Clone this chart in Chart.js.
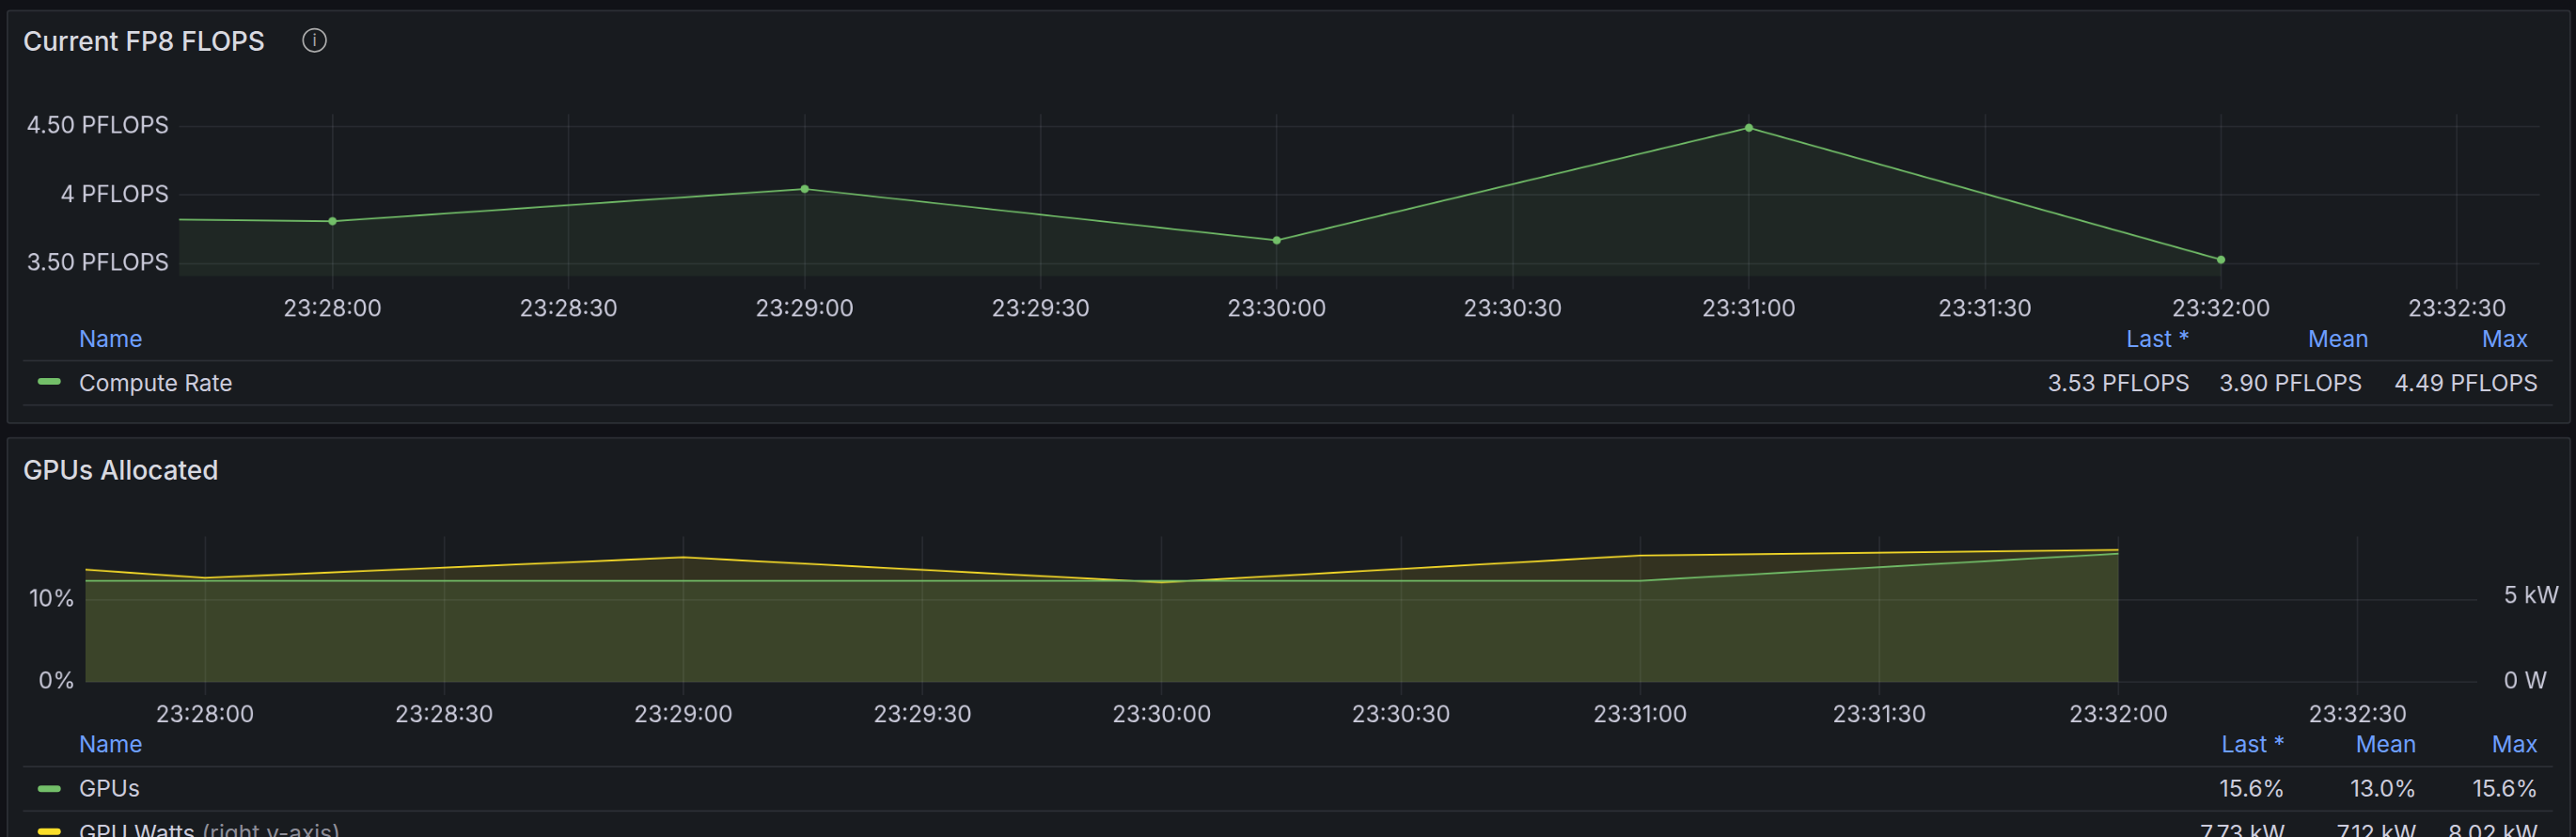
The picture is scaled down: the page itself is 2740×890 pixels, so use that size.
<!DOCTYPE html>
<html><head><meta charset="utf-8">
<script src="https://cdn.jsdelivr.net/npm/chart.js@4"></script>
<style>
html,body{margin:0;padding:0;background:#111217;width:2740px;height:890px;overflow:hidden;font-family:Inter,"Noto Sans",sans-serif;color:#ccccdc}
#root{position:absolute;left:0;top:0;width:1568px;height:509px;transform:scale(1.7474);transform-origin:0 0}
.panel{position:absolute;background:#181b1f;border:1px solid #2c2f35;border-radius:2px}
.title{position:absolute;font-size:16px;font-weight:500;color:#d8d9e0}
.abs{position:absolute}
.hdr{position:absolute;font-size:14px;color:#6e9fff}
.cell{position:absolute;font-size:14px;color:#ccccdc;text-align:right;white-space:nowrap}
.line{position:absolute;height:1px;background:#2c2f35}
.sw{position:absolute;width:14px;height:4px;border-radius:2px}
canvas{display:block}
</style></head><body>
<div id="root">
 <div class="panel" style="left:4px;top:6px;width:1559px;height:250px"></div>
 <div class="title" style="left:14px;top:15px">Current FP8 FLOPS</div>
 <div class="abs" style="left:184px;top:17px;width:15px;height:15px;border:1.3px solid #aaa;border-radius:50%;font-size:10px;line-height:13px;text-align:center;color:#aaa;box-sizing:border-box">i</div>
 <div class="abs" style="left:10px;top:55px;width:1548px;height:140px"><canvas id="c1"></canvas></div>
 <div class="hdr" style="left:48px;top:197px">Name</div>
 <div class="hdr" style="left:1240px;width:93px;text-align:right;top:197px">Last *</div>
 <div class="hdr" style="left:1340px;width:102px;text-align:right;top:197px">Mean</div>
 <div class="hdr" style="left:1450px;width:89px;text-align:right;top:197px">Max</div>
 <div class="line" style="left:14px;width:1540px;top:219px"></div>
 <div class="sw" style="left:23px;top:230px;background:#73bf69"></div>
 <div class="cell" style="left:48px;top:224px;text-align:left">Compute Rate</div>
 <div class="cell" style="left:1200px;width:133px;top:224px" id="l1"></div>
 <div class="cell" style="left:1340px;width:98px;top:224px" id="m1"></div>
 <div class="cell" style="left:1450px;width:95px;top:224px" id="x1"></div>
 <div class="line" style="left:14px;width:1540px;top:246px"></div>

 <div class="panel" style="left:4px;top:266px;width:1559px;height:260px"></div>
 <div class="title" style="left:14px;top:276px">GPUs Allocated</div>
 <div class="abs" style="left:10px;top:310px;width:1548px;height:132px"><canvas id="c2"></canvas></div>
 <div class="hdr" style="left:48px;top:444px">Name</div>
 <div class="hdr" style="left:1300px;width:91px;text-align:right;top:444px">Last *</div>
 <div class="hdr" style="left:1400px;width:71px;text-align:right;top:444px">Mean</div>
 <div class="hdr" style="left:1500px;width:45px;text-align:right;top:444px">Max</div>
 <div class="line" style="left:14px;width:1540px;top:466px"></div>
 <div class="sw" style="left:23px;top:478px;background:#73bf69"></div>
 <div class="cell" style="left:48px;top:471px;text-align:left">GPUs</div>
 <div class="cell" style="left:1300px;width:91px;top:471px">15.6%</div>
 <div class="cell" style="left:1400px;width:71px;top:471px">13.0%</div>
 <div class="cell" style="left:1480px;width:65px;top:471px">15.6%</div>
 <div class="line" style="left:14px;width:1540px;top:493px"></div>
 <div class="sw" style="left:23px;top:504px;background:#fade2a"></div>
 <div class="cell" style="left:48px;top:498px;text-align:left">GPU Watts <span style="color:#8e8e99">(right y-axis)</span></div>
 <div class="cell" style="left:1300px;width:91px;top:498px">7.73 kW</div>
 <div class="cell" style="left:1400px;width:71px;top:498px">7.12 kW</div>
 <div class="cell" style="left:1480px;width:65px;top:498px">8.02 kW</div>
</div>
<script>
function s(h,m,sec){return h*3600+m*60+sec;}
// Panel 1 data
const flopsTimes = [s(23,27,40.5), s(23,28,0), s(23,29,0), s(23,30,0), s(23,31,0), s(23,32,0)];
const flopsValues = [3.822, 3.81, 4.045, 3.67, 4.49, 3.53];
const flopsPointRadius = [0, 2.5, 2.5, 2.5, 2.5, 2.5];
const flopsTicks = [3.5, 4, 4.5];
const flopsTickLabels = ["3.50 PFLOPS", "4 PFLOPS", "4.50 PFLOPS"];
const timeTicks = [s(23,28,0), s(23,28,30), s(23,29,0), s(23,29,30), s(23,30,0), s(23,30,30), s(23,31,0), s(23,31,30), s(23,32,0), s(23,32,30)];
const timeTickLabels = ["23:28:00","23:28:30","23:29:00","23:29:30","23:30:00","23:30:30","23:31:00","23:31:30","23:32:00","23:32:30"];
const flopsStats = {last:"3.53 PFLOPS", mean:"3.90 PFLOPS", max:"4.49 PFLOPS"};
// Panel 2 data
const gpuTimes = [s(23,27,45), s(23,28,0), s(23,29,0), s(23,30,0), s(23,31,0), s(23,32,0)];
const gpuPercent = [12.3, 12.3, 12.3, 12.3, 12.3, 15.6];
const gpuWattsKW = [6.57, 6.1, 7.3, 5.83, 7.4, 7.73];
const pctTicks = [0, 10];
const pctTickLabels = ["0%", "10%"];
const wTicks = [0, 5];
const wTickLabels = ["0 W", "5 kW"];

document.getElementById('l1').textContent=flopsStats.last;
document.getElementById('m1').textContent=flopsStats.mean;
document.getElementById('x1').textContent=flopsStats.max;

Chart.defaults.font.family = "Inter, 'Noto Sans', sans-serif";
Chart.defaults.font.size = 14;
Chart.defaults.color = '#ccccdc';
const grid = 'rgba(204,204,220,0.09)';

function xAxis(min,max){
  return {type:'linear',min,max,
    afterBuildTicks(a){a.ticks=timeTicks.map(v=>({value:v}));},
    afterFit(a){a.height=27;},
    ticks:{autoSkip:false,maxRotation:0,padding:4,callback:(v)=>timeTickLabels[timeTicks.indexOf(v)]},
    grid:{color:grid,tickLength:8,drawTicks:true},border:{display:false}};
}

new Chart(document.getElementById('c1'),{
  type:'line',
  data:{datasets:[{data:flopsTimes.map((t,i)=>({x:t,y:flopsValues[i]})),
    borderColor:'#73bf69',borderWidth:1,backgroundColor:'rgba(115,191,105,0.08)',fill:'start',
    pointRadius:flopsPointRadius,pointBackgroundColor:'#73bf69',pointBorderWidth:0,tension:0}]},
  options:{responsive:true,maintainAspectRatio:false,animation:false,devicePixelRatio:2,
    layout:{padding:{top:1,right:12,left:0,bottom:0}},
    plugins:{legend:{display:false},tooltip:{enabled:false}},
    scales:{
      x:xAxis(s(23,27,40.5), s(23,32,40.5)),
      y:{min:3.41,max:4.59,afterBuildTicks(a){a.ticks=flopsTicks.map(v=>({value:v}));},
        afterFit(a){a.width=99;},
        ticks:{padding:6,callback:(v)=>flopsTickLabels[flopsTicks.indexOf(v)]},
        grid:{color:grid,drawTicks:false},border:{display:false}}
    }}
});

new Chart(document.getElementById('c2'),{
  type:'line',
  data:{datasets:[
    {data:gpuTimes.map((t,i)=>({x:t,y:gpuPercent[i]})),yAxisID:'y',
     borderColor:'#73bf69',borderWidth:1,backgroundColor:'rgba(115,191,105,0.13)',fill:'start',pointRadius:0,tension:0},
    {data:gpuTimes.map((t,i)=>({x:t,y:gpuWattsKW[i]})),yAxisID:'y2',
     borderColor:'#fade2a',borderWidth:1,backgroundColor:'rgba(250,222,42,0.12)',fill:'start',pointRadius:0,tension:0}
  ]},
  options:{responsive:true,maintainAspectRatio:false,animation:false,devicePixelRatio:2,
    layout:{padding:{top:8,right:0,left:0,bottom:0}},
    plugins:{legend:{display:false},tooltip:{enabled:false}},
    scales:{
      x:xAxis(s(23,27,45), s(23,32,45)),
      y:{position:'left',min:0,max:17.7,afterBuildTicks(a){a.ticks=pctTicks.map(v=>({value:v}));},
        afterFit(a){a.width=42;},
        ticks:{padding:6,callback:(v)=>pctTickLabels[pctTicks.indexOf(v)]},
        grid:{color:grid,drawTicks:false},border:{display:false}},
      y2:{position:'right',min:0,max:8.52,afterBuildTicks(a){a.ticks=wTicks.map(v=>({value:v}));},
        afterFit(a){a.width=50;},
        ticks:{padding:8,callback:(v)=>wTickLabels[wTicks.indexOf(v)]},
        grid:{display:false},border:{display:false}}
    }}
});
</script>
</body></html>
